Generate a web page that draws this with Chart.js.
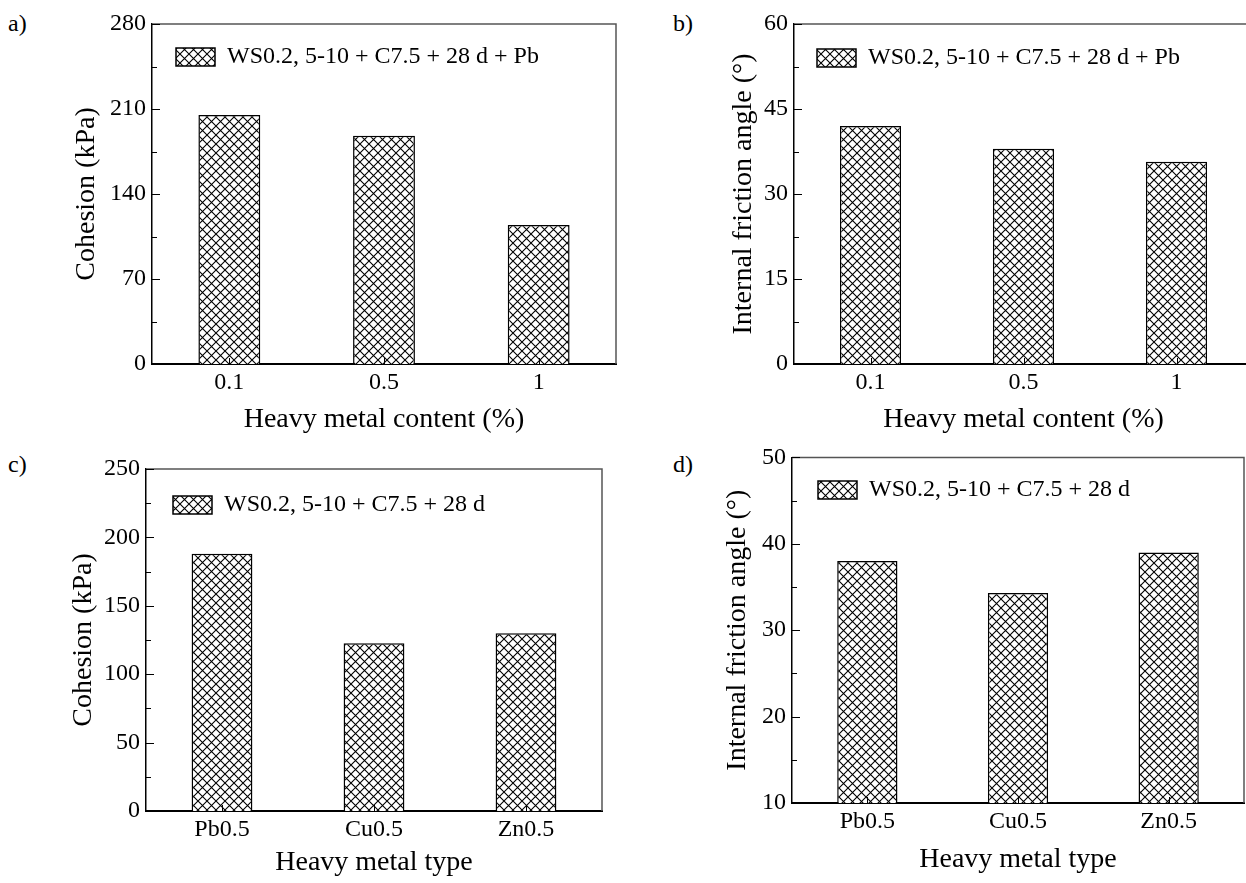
<!DOCTYPE html>
<html>
<head>
<meta charset="utf-8">
<script src="https://cdn.jsdelivr.net/npm/chart.js@4.4.1/dist/chart.umd.min.js"></script>
<style>
  body { margin: 0; background: #fff; overflow: hidden; width: 1246px; height: 883px; position: relative; }
  canvas { position: absolute; }
  .tag { position: absolute; font: 24px "Liberation Serif", "Times New Roman", serif; line-height: 1; color: #000; }
</style>
</head>
<body>
<div class="tag" style="left:8px; top:11px;">a)</div>
<div class="tag" style="left:673px; top:11px;">b)</div>
<div class="tag" style="left:8px; top:452px;">c)</div>
<div class="tag" style="left:673px; top:452px;">d)</div>

<canvas id="chartA" width="623" height="441" style="left:0; top:0;"></canvas>
<canvas id="chartB" width="640" height="441" style="left:623px; top:0;"></canvas>
<canvas id="chartC" width="623" height="442" style="left:0; top:441px;"></canvas>
<canvas id="chartD" width="623" height="446" style="left:623px; top:437px;"></canvas>

<script>
// data
const contentLabels = ["0.1", "0.5", "1"];
const cohesionByContent = [205, 188, 114.5];
const frictionByContent = [42, 38, 35.7];

const typeLabels = ["Pb0.5", "Cu0.5", "Zn0.5"];
const cohesionByType = [188, 122.6, 130];
const frictionByType = [38, 34.3, 39];

const legendPb = "WS0.2, 5-10 + C7.5 + 28 d + Pb";
const legendType = "WS0.2, 5-10 + C7.5 + 28 d";

// axis ranges (min, max, major step)
const rangeCohesionA = [0, 280, 70];
const rangeFrictionB = [0, 60, 15];
const rangeCohesionC = [0, 250, 50];
const rangeFrictionD = [10, 50, 10];

const SERIF = '"Liberation Serif", "Times New Roman", serif';

// cross hatch fill like the original
function makeHatch() {
  const c = document.createElement("canvas");
  c.width = 9; c.height = 9;
  const g = c.getContext("2d");
  g.fillStyle = "#fff";
  g.fillRect(0, 0, 9, 9);
  g.strokeStyle = "#000";
  g.lineWidth = 1.1;
  g.beginPath();
  g.moveTo(-1, -1); g.lineTo(10, 10);
  g.moveTo(-1, 10); g.lineTo(10, -1);
  g.stroke();
  return g.createPattern(c, "repeat");
}
const hatch = makeHatch();

// frame on top/right plus inward ticks
const frameAndTicks = {
  id: "frameAndTicks",
  afterDatasetsDraw(chart) {
    const { ctx, chartArea: a, scales: { x, y } } = chart;
    ctx.save();
    ctx.strokeStyle = "#555";
    ctx.lineWidth = 1.5;
    ctx.beginPath();
    ctx.moveTo(a.left, a.top);
    ctx.lineTo(a.right, a.top);
    ctx.lineTo(a.right, a.bottom);
    ctx.stroke();

    ctx.strokeStyle = "#000";
    ctx.lineWidth = 1;
    ctx.beginPath();
    y.ticks.forEach((t, i) => {
      const py = Math.round(y.getPixelForValue(t.value)) + 0.5;
      const len = i % 2 === 0 ? 8 : 5;
      ctx.moveTo(a.left, py);
      ctx.lineTo(a.left + len, py);
    });
    x.ticks.forEach((t, i) => {
      const px = Math.round(x.getPixelForTick(i)) + 0.5;
      ctx.moveTo(px, a.bottom);
      ctx.lineTo(px, a.bottom - 6);
    });
    ctx.stroke();
    ctx.restore();
  }
};

function makePanel(id, p) {
  const ctx = document.getElementById(id).getContext("2d");
  const [min, max, step] = p.range;
  return new Chart(ctx, {
    type: "bar",
    data: {
      labels: p.labels,
      datasets: [{
        label: p.legend,
        data: p.values,
        backgroundColor: hatch,
        borderColor: "#000",
        borderWidth: 1.5,
        categoryPercentage: 1,
        barPercentage: 0.4
      }]
    },
    options: {
      responsive: false,
      animation: false,
      devicePixelRatio: 1,
      layout: { padding: { top: p.top, right: p.right, left: 0, bottom: 0 } },
      plugins: {
        tooltip: { enabled: false },
        legend: {
          position: "chartArea",
          align: "start",
          // empty title used only as a spacer to push the legend down
          title: {
            display: true,
            text: " ",
            font: { size: 10 },
            padding: { top: p.legendDrop - 12, bottom: 0 }
          },
          labels: {
            boxWidth: 39,
            boxHeight: 18,
            padding: p.legendPad,
            color: "#000",
            font: { family: SERIF, size: 24 }
          }
        }
      },
      scales: {
        x: {
          grid: { display: false, drawTicks: false },
          border: { color: "#000", width: 2 },
          ticks: { color: "#000", padding: 4, font: { family: SERIF, size: 24 } },
          title: {
            display: true,
            text: p.xTitle,
            color: "#000",
            font: { family: SERIF, size: 28 },
            padding: { top: 0, bottom: p.xTitlePad }
          },
          afterFit: (s) => { s.height = p.xHeight; }
        },
        y: {
          min: min,
          max: max,
          grid: { display: false, drawTicks: false },
          border: { color: "#000", width: 1.5 },
          ticks: {
            stepSize: step / 2,
            autoSkip: false,
            maxTicksLimit: 30,
            color: "#000",
            padding: 6,
            font: { family: SERIF, size: 24 },
            callback: (v, i) => (i % 2 === 0 ? v : "")
          },
          title: {
            display: true,
            text: p.yTitle,
            color: "#000",
            font: { family: SERIF, size: 28 },
            padding: { top: p.yTitlePad, bottom: 0 }
          },
          afterFit: (s) => { s.width = p.yWidth; }
        }
      }
    },
    plugins: [frameAndTicks]
  });
}

makePanel("chartA", {
  labels: contentLabels, values: cohesionByContent, legend: legendPb, range: rangeCohesionA,
  xTitle: "Heavy metal content (%)", yTitle: "Cohesion (kPa)",
  top: 24, right: 7, yWidth: 152, xHeight: 77, yTitlePad: 70, xTitlePad: 5,
  legendPad: 24, legendDrop: 21
});

makePanel("chartB", {
  labels: contentLabels, values: frictionByContent, legend: legendPb, range: rangeFrictionB,
  xTitle: "Heavy metal content (%)", yTitle: "Internal friction angle (°)",
  top: 24, right: 10, yWidth: 171, xHeight: 77, yTitlePad: 104, xTitlePad: 5,
  legendPad: 23, legendDrop: 23
});

makePanel("chartC", {
  labels: typeLabels, values: cohesionByType, legend: legendType, range: rangeCohesionC,
  xTitle: "Heavy metal type", yTitle: "Cohesion (kPa)",
  top: 28, right: 21, yWidth: 146, xHeight: 72, yTitlePad: 67, xTitlePad: 4,
  legendPad: 27, legendDrop: 25
});

makePanel("chartD", {
  labels: typeLabels, values: frictionByType, legend: legendType, range: rangeFrictionD,
  xTitle: "Heavy metal type", yTitle: "Internal friction angle (°)",
  top: 20, right: 2, yWidth: 169, xHeight: 80, yTitlePad: 98, xTitlePad: 7,
  legendPad: 26, legendDrop: 15
});
</script>
</body>
</html>
